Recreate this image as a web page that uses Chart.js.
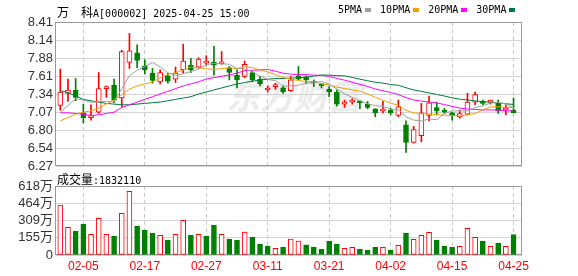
<!DOCTYPE html>
<html>
<head>
<meta charset="utf-8">
<script src="https://cdn.jsdelivr.net/npm/chart.js@4.4.1/dist/chart.umd.min.js"></script>
<style>
  html, body { margin: 0; padding: 0; background: #fff; }
  #wrap { position: relative; width: 578px; height: 276px; overflow: hidden; }
  canvas { position: absolute; left: 0; }
  #kline { top: 0; }
  #vol { top: 170px; }
  .txt { position: absolute; font: 10px "DejaVu Sans Mono", monospace; color: #000; line-height: 14px; white-space: pre; }
  .cjk { font: 12px "Noto Sans CJK SC"; }
  #title { left: 57px; top: 3px; }
  #legend { left: 338px; top: 3px; }
  #legend i { display: inline-block; width: 6px; height: 4px; margin: 0 9px 1px 3px; vertical-align: middle; }
  #volTitle { left: 57px; top: 170px; }
  #wm { position: absolute; left: 226px; top: 70px; font: bold italic 34px "Noto Sans CJK SC"; color: #ececec; }
</style>
</head>
<body>
<div id="wrap">
  <div id="wm">东方财富</div>
  <canvas id="kline" width="578" height="180"></canvas>
  <canvas id="vol" width="578" height="106"></canvas>
  <div id="title" class="txt"><span class="cjk">万</span>  <span class="cjk">科</span>A[000002] 2025-04-25 15:00</div>
  <div id="legend" class="txt"></div>
  <div id="volTitle" class="txt"></div>
</div>
<script>
// trading days shown
const dates = ["01-23","01-24","01-27","02-05","02-06","02-07","02-10","02-11","02-12","02-13",
  "02-14","02-17","02-18","02-19","02-20","02-21","02-24","02-25","02-26","02-27",
  "02-28","03-03","03-04","03-05","03-06","03-07","03-10","03-11","03-12","03-13",
  "03-14","03-17","03-18","03-19","03-20","03-21","03-24","03-25","03-26","03-27",
  "03-28","03-31","04-01","04-02","04-03","04-07","04-08","04-09","04-10","04-11",
  "04-14","04-15","04-16","04-17","04-18","04-21","04-22","04-23","04-24","04-25"];

const openP = [7.17,7.35,7.40,7.06,6.99,7.07,7.42,7.47,7.28,7.81,
  7.95,7.76,7.65,7.52,7.61,7.56,7.70,7.77,7.74,7.80,
  7.81,7.79,7.73,7.62,7.60,7.66,7.56,7.40,7.45,7.43,
  7.39,7.61,7.59,7.52,7.47,7.41,7.37,7.19,7.22,7.22,
  7.19,7.12,7.09,7.10,7.02,6.88,6.62,6.72,7.02,7.14,
  7.08,7.06,7.00,7.04,7.22,7.22,7.22,7.20,7.10,7.10];
const closeP = [7.37,7.40,7.29,6.99,7.02,7.42,7.43,7.25,7.97,7.98,
  7.84,7.70,7.54,7.66,7.53,7.65,7.83,7.70,7.86,7.82,
  7.77,7.80,7.66,7.55,7.78,7.55,7.49,7.41,7.46,7.37,
  7.55,7.56,7.55,7.50,7.46,7.37,7.19,7.20,7.23,7.21,
  7.14,7.06,7.12,7.06,7.15,6.62,6.81,7.06,7.21,7.09,
  7.07,7.02,7.05,7.22,7.33,7.20,7.23,7.09,7.11,7.06];
const highP = [7.71,7.56,7.57,7.19,7.18,7.66,7.46,7.56,7.99,8.24,
  8.07,7.85,7.72,7.70,7.65,7.74,8.08,7.87,7.88,7.91,
  8.05,7.97,7.75,7.70,7.83,7.68,7.60,7.46,7.50,7.46,
  7.60,7.75,7.61,7.55,7.50,7.45,7.40,7.25,7.27,7.24,
  7.23,7.12,7.23,7.13,7.25,6.94,6.86,7.20,7.31,7.22,
  7.13,7.07,7.10,7.35,7.37,7.25,7.25,7.25,7.18,7.28];
const lowP = [7.10,7.23,7.24,6.91,6.95,7.05,7.29,7.21,7.15,7.72,
  7.73,7.64,7.50,7.49,7.50,7.51,7.65,7.66,7.72,7.77,
  7.62,7.78,7.55,7.43,7.58,7.52,7.46,7.37,7.41,7.35,
  7.38,7.55,7.50,7.45,7.43,7.30,7.16,7.14,7.19,7.12,
  7.12,7.00,7.06,7.03,7.00,6.47,6.61,6.63,6.94,7.03,
  7.05,6.95,6.98,7.03,7.18,7.18,7.19,7.05,7.03,7.06];

// moving averages
const ma5 = [7.07,7.17,7.27,7.25,7.214,7.226,7.23,7.222,7.42,7.612,
  7.694,7.75,7.808,7.744,7.654,7.616,7.642,7.674,7.714,7.772,
  7.796,7.79,7.782,7.72,7.712,7.668,7.606,7.556,7.538,7.456,
  7.458,7.472,7.50,7.508,7.526,7.488,7.414,7.344,7.29,7.24,
  7.194,7.168,7.152,7.118,7.106,7.002,6.952,6.94,6.97,6.958,
  7.048,7.09,7.088,7.09,7.138,7.164,7.206,7.214,7.192,7.138];
const ma10 = [6.94,6.99,7.04,7.07,7.09,7.13,7.19,7.25,7.33,7.413,
  7.46,7.49,7.515,7.582,7.633,7.655,7.696,7.741,7.729,7.713,
  7.706,7.716,7.728,7.717,7.742,7.732,7.698,7.669,7.629,7.584,
  7.563,7.539,7.528,7.523,7.491,7.473,7.443,7.422,7.399,7.383,
  7.341,7.291,7.248,7.204,7.173,7.098,7.06,7.046,7.044,7.032,
  7.025,7.021,7.014,7.03,7.048,7.106,7.148,7.151,7.141,7.138];
const ma20 = [7.06,7.06,7.05,7.04,7.02,7.03,7.05,7.07,7.14,7.18,
  7.22,7.26,7.30,7.34,7.38,7.42,7.46,7.49,7.52,7.563,
  7.583,7.603,7.622,7.65,7.688,7.694,7.697,7.705,7.679,7.649,
  7.635,7.628,7.628,7.62,7.617,7.603,7.571,7.546,7.514,7.484,
  7.452,7.415,7.388,7.364,7.332,7.286,7.252,7.234,7.222,7.208,
  7.183,7.156,7.131,7.117,7.111,7.102,7.104,7.099,7.093,7.085];
const ma30 = [7.39,7.36,7.31,7.26,7.24,7.22,7.20,7.19,7.18,7.18,
  7.19,7.20,7.21,7.22,7.24,7.26,7.28,7.30,7.34,7.37,
  7.40,7.43,7.46,7.49,7.51,7.53,7.55,7.56,7.57,7.57,
  7.576,7.582,7.59,7.607,7.622,7.62,7.612,7.611,7.586,7.56,
  7.537,7.515,7.501,7.481,7.469,7.434,7.40,7.379,7.357,7.333,
  7.31,7.284,7.263,7.252,7.237,7.226,7.217,7.206,7.195,7.184];

// volume in 万
const vol = [448,248,215,278,185,329,185,170,373,570,
  260,224,197,176,134,185,311,179,185,170,
  269,185,143,134,206,161,98,81,60,69,
  143,125,90,69,54,125,98,60,69,54,
  45,69,69,45,87,197,140,176,203,134,
  81,72,78,239,158,125,78,107,78,183.211];

const priceTicks = [6.27,6.5375,6.805,7.0725,7.34,7.6075,7.875,8.1425,8.41];
const priceLabels = ["6.27","6.54","6.80","7.07","7.34","7.61","7.88","8.14","8.41"];
const volTicks = [0,154.5,309,463.5,618];
const volLabels = ["0","155万","309万","464万","618万"];
const dateTickIdx = [3,11,19,27,35,43,51,59];

const maNames = ["5PMA","10PMA","20PMA","30PMA"];
const maColors = ["#a0a0a0","#f0a000","#ff00ff","#007a3d"];

const UP = "#ff0000", DOWN = "#008000";
const idx = dates.map((d, i) => i);
const isUp = idx.map(i => closeP[i] >= openP[i]);
const volUp = idx.map(i => i === 0 ? isUp[0] : closeP[i] > closeP[i - 1]);

// header texts
document.getElementById("legend").innerHTML = maNames
  .map((n, k) => `${n}<i style="background:${maColors[k]}"></i>`).join("");
document.getElementById("volTitle").innerHTML =
  `<span class="cjk">成交量</span>:${Math.round(vol[vol.length - 1] * 10000)}`;

Chart.defaults.font.family = "Arial";

const frame = {
  id: "frame",
  beforeDatasetsDraw(chart) {
    const { ctx, chartArea: a } = chart;
    ctx.save();
    ctx.strokeStyle = "#999999";
    ctx.lineWidth = 1;
    ctx.strokeRect(Math.round(a.left) - 0.5, Math.round(a.top) + 0.5,
      Math.round(a.right - a.left), Math.round(a.bottom - a.top) - 1);
    ctx.restore();
  }
};

function xScale(showLabels) {
  return {
    type: "linear",
    min: -0.56,
    max: 60.1,
    offset: false,
    afterBuildTicks: s => { s.ticks = dateTickIdx.map(v => ({ value: v })); },
    afterFit: s => { s.height = showLabels ? 21 : 0; },
    grid: { color: "#c8c8c8", drawTicks: false, offset: false },
    border: { display: false, dash: [4, 3] },
    ticks: {
      display: showLabels, autoSkip: false, maxRotation: 0, padding: 4,
      color: "#ff0000", font: { family: "Arial", size: 12 },
      callback: v => dates[v]
    }
  };
}

function yScale(min, max, tickVals, labels) {
  return {
    min, max,
    afterBuildTicks: s => { s.ticks = tickVals.map(v => ({ value: v })); },
    afterFit: s => { s.width = 56; },
    grid: { color: "#d4d4d4", drawTicks: false },
    border: { display: false },
    ticks: {
      autoSkip: false, padding: 3, color: "#333333",
      font: { family: "Arial, 'Noto Sans CJK SC'", size: 13 },
      callback: (v, i) => labels[i]
    }
  };
}

const maLine = (k, arr) => ({
  type: "line",
  label: maNames[k],
  data: arr.map((v, i) => ({ x: i, y: v })),
  borderColor: maColors[k],
  borderWidth: 1,
  pointRadius: 0,
  fill: false,
  tension: 0,
  order: 0
});

new Chart(document.getElementById("kline"), {
  type: "bar",
  data: {
    datasets: [
      maLine(0, ma5), maLine(1, ma10), maLine(2, ma20), maLine(3, ma30),
      {
        label: "wick",
        data: idx.map(i => ({ x: i, y: [lowP[i], highP[i]] })),
        backgroundColor: isUp.map(u => u ? UP : DOWN),
        barThickness: 1,
        grouped: false,
        order: 3
      },
      {
        label: "body",
        data: idx.map(i => ({ x: i, y: [openP[i], closeP[i]] })),
        backgroundColor: isUp.map(u => u ? "#ffffff" : DOWN),
        borderColor: isUp.map(u => u ? UP : DOWN),
        borderWidth: 1,
        borderSkipped: false,
        barThickness: 5,
        minBarLength: 2,
        grouped: false,
        order: 2
      }
    ]
  },
  options: {
    responsive: false,
    animation: false,
    layout: { padding: { top: 22, right: 56, bottom: 14, left: 0 } },
    plugins: { legend: { display: false }, tooltip: { enabled: false } },
    scales: {
      x: xScale(false),
      y: yScale(6.27, 8.41, priceTicks, priceLabels)
    }
  },
  plugins: [frame]
});

new Chart(document.getElementById("vol"), {
  type: "bar",
  data: {
    datasets: [{
      label: "volume",
      data: vol.map((v, i) => ({ x: i, y: v })),
      backgroundColor: volUp.map(u => u ? "#ffffff" : DOWN),
      borderColor: volUp.map(u => u ? UP : DOWN),
      borderWidth: 1,
      borderSkipped: false,
      barThickness: 5,
      grouped: false
    }]
  },
  options: {
    responsive: false,
    animation: false,
    layout: { padding: { top: 16, right: 56, bottom: 0, left: 0 } },
    plugins: { legend: { display: false }, tooltip: { enabled: false } },
    scales: {
      x: xScale(true),
      y: yScale(0, 618, volTicks, volLabels)
    }
  },
  plugins: [frame]
});
</script>
</body>
</html>
